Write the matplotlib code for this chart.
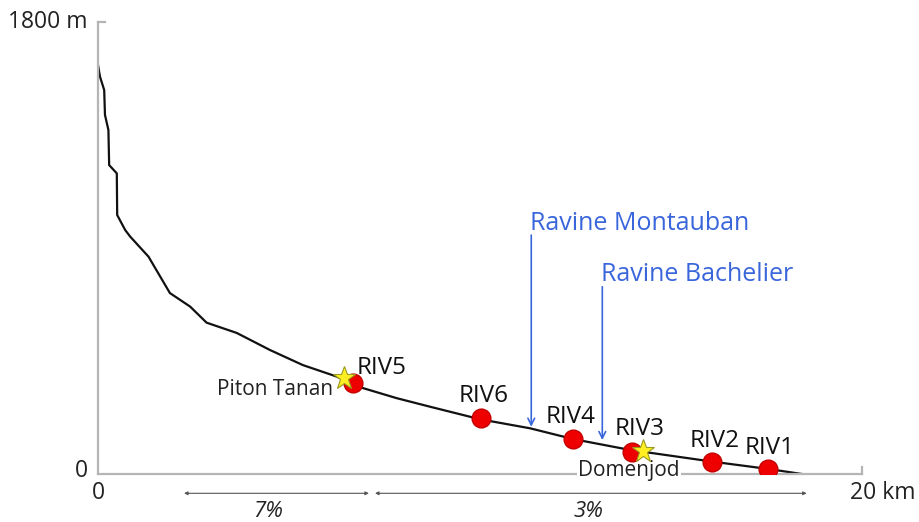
import matplotlib.pyplot as plt

plt.rcParams['font.family'] = ['Open Sans', 'DejaVu Sans']

# long profile of the river: distance from source (km) and altitude (m)
dist_km = [0.0, 0.06, 0.17, 0.19, 0.28, 0.30, 0.50, 0.51, 0.72, 0.85, 1.33,
           1.89, 2.42, 2.85, 3.64, 4.51, 5.37, 6.26, 6.95, 7.83, 8.70, 10.01,
           11.32, 12.45, 13.93, 16.10, 17.60, 18.43]
alt_m = [1637, 1583, 1530, 1431, 1371, 1231, 1198, 1032, 972, 946, 866,
         721, 667, 603, 562, 494, 434, 388, 342, 302, 268, 218,
         182, 139, 96, 49, 19, 0]

# sampling stations
stations = ['RIV5', 'RIV6', 'RIV4', 'RIV3', 'RIV2', 'RIV1']
st_km = [6.68, 10.03, 12.43, 13.98, 16.09, 17.55]
st_alt = [361, 222, 138, 89, 47, 20]

# landmarks
sites = ['Piton Tanan', 'Domenjod']
site_km = [6.45, 14.27]
site_alt = [381, 93]

# tributary ravines
ravines = ['Ravine Montauban', 'Ravine Bachelier']
rav_km = [11.35, 13.21]
rav_alt = [188, 135]

# mean slopes of the two reaches
slopes = ['7%', '3%']
slope_from = [2.26, 7.26]
slope_to = [7.10, 18.56]

fig = plt.figure(figsize=(9.2, 5.22), dpi=100)
ax = fig.add_axes([0.1062, 0.0920, 0.8304, 0.8653])
ax.set_xlim(0, 20)
ax.set_ylim(0, 1800)

gray = '#b5b5b5'
blue = '#3a66dc'
for s in ['top', 'right']:
    ax.spines[s].set_visible(False)
for s in ['left', 'bottom']:
    ax.spines[s].set_color(gray)
    ax.spines[s].set_linewidth(1.6)
ax.set_xticks([])
ax.set_yticks([])
# small end ticks
ax.plot([0, 0.2], [1800, 1800], color=gray, lw=1.6, clip_on=False)
ax.plot([20, 20], [0, 28], color=gray, lw=1.6, clip_on=False)

fs = 16.5
ax.text(-0.26, 1800, '1800 m', ha='right', va='center', fontsize=fs, color='#222222')
ax.text(-0.26, 10, '0', ha='right', va='center', fontsize=fs, color='#222222')
ax.text(0.03, -75, '0', ha='center', va='center', fontsize=fs, color='#222222')
ax.text(19.7, -75, '20 km', ha='left', va='center', fontsize=fs, color='#222222')

ax.plot(dist_km, alt_m, color='#111111', lw=1.6, zorder=2)

# ravine arrows and names
rav_top = [952, 746]
for name, x, y, top in zip(ravines, rav_km, rav_alt, rav_top):
    ax.annotate('', xy=(x, y), xytext=(x, top),
                arrowprops=dict(arrowstyle='->', color=blue, lw=1.2,
                                shrinkA=0, shrinkB=0, mutation_scale=12))
    ax.text(x - 0.04, top + 22, name, ha='left', va='baseline',
            fontsize=18, color=blue)

# stations
ax.plot(st_km, st_alt, 'o', ms=13.5, color='#ee0000', mec='#c40000',
        mew=1, zorder=4)
st_off = [(3, 7), (1.8, 11.7), (-1.2, 11.5), (6, 12), (2, 11.2), (1.2, 10.6)]
st_ha = ['left', 'center', 'center', 'center', 'center', 'center']
for name, x, y, off, ha in zip(stations, st_km, st_alt, st_off, st_ha):
    ax.annotate(name, (x, y), xytext=off, textcoords='offset points',
                ha=ha, va='baseline', fontsize=17.5, color='#111111')

# landmarks
ax.plot(site_km, site_alt, '*', ms=17, color='#ffee22', mec='#9a9a20',
        mew=0.8, zorder=5)
site_off = [(-7.7, -12), (-9.9, -18.5)]
site_ha = ['right', 'center']
for name, x, y, off, ha in zip(sites, site_km, site_alt, site_off, site_ha):
    ax.annotate(name, (x, y), xytext=off, textcoords='offset points',
                ha=ha, va='baseline', fontsize=15, color='#222222',
                bbox=dict(boxstyle='square,pad=0.05', fc='white', ec='none'),
                zorder=3)

# slope reaches
for lab, x0, x1 in zip(slopes, slope_from, slope_to):
    ax.annotate('', xy=(x1, -77), xytext=(x0, -77), annotation_clip=False,
                arrowprops=dict(arrowstyle='<|-|>', color='#555555', lw=0.8,
                                shrinkA=0, shrinkB=0, mutation_scale=5))
slope_lab_x = [4.46, 12.84]
for lab, x in zip(slopes, slope_lab_x):
    ax.text(x, -150, lab, ha='center', va='center', fontsize=16,
            style='italic', color='#222222')

fig.savefig('out.png', dpi=100)
